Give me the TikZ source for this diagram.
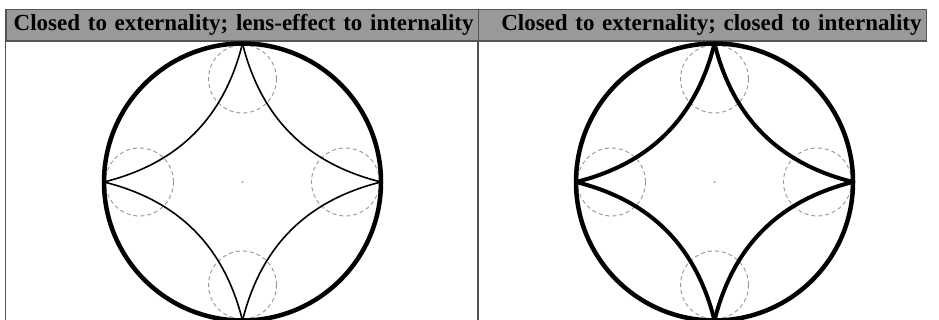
\documentclass[tikz,border=0pt]{standalone}
\usepackage{fontspec}
\setmainfont{Liberation Serif}
\usepackage{tikz}
\usetikzlibrary{positioning, calc}
\definecolor{headFill}{RGB}{153,153,153}
\definecolor{headLine}{RGB}{85,85,85}
\definecolor{frameLine}{RGB}{80,80,80}
\definecolor{guideLine}{RGB}{150,150,150}
\definecolor{ink}{RGB}{0,0,0}
\tikzset{
  header/.style={
    draw=headLine,
    line width=1.2pt,
    fill=headFill,
    anchor=north west,
    minimum height=31.5pt,
    inner xsep=5pt,
    inner ysep=0pt,
    align=right,
    font=\fontsize{23}{23}\selectfont\bfseries
  },
  frame/.style={draw=frameLine, line width=1.5pt},
  rim/.style={draw=ink, line width=4.5pt},
  guide/.style={draw=guideLine, line width=0.9pt, dash pattern=on 4pt off 3pt},
  lens/.style={draw=ink, line width=1.6pt},
  shut/.style={draw=ink, line width=4pt},
  hub/.style={circle, fill=guideLine, inner sep=0pt, minimum size=2pt}
}

\begin{document}
\begin{tikzpicture}[x=1pt, y=1pt]
  \useasboundingbox (0,0) rectangle (939,320);

  \draw[frame] (5.5,311) -- (5.5,0);
  \draw[frame] (478,311) -- (478,0);
  \node[header, text width=462.5pt] (leftHead) at (5.5,311) {Closed to externality; lens-effect to internality};
  \node[header, text width=438pt] (rightHead) at (478,311) {Closed to externality; closed to internality};

  \coordinate (leftMid) at (242.5,138);
  \coordinate (lTop) at ($(leftMid)+(0,138.5)$);
  \coordinate (lRight) at ($(leftMid)+(138.5,0)$);
  \coordinate (lBottom) at ($(leftMid)+(0,-138.5)$);
  \coordinate (lLeft) at ($(leftMid)+(-138.5,0)$);
  \draw[guide] ($(leftMid)+(0,103)$) circle[radius=34];
  \draw[guide] ($(leftMid)+(103,0)$) circle[radius=34];
  \draw[guide] ($(leftMid)+(0,-103)$) circle[radius=34];
  \draw[guide] ($(leftMid)+(-103,0)$) circle[radius=34];
  \node[hub] (leftDot) at (leftMid) {};
  \draw[rim] (leftMid) circle[radius=138.5];
  \draw[lens] (lTop) to[bend right=31] (lRight);
  \draw[lens] (lRight) to[bend right=31] (lBottom);
  \draw[lens] (lBottom) to[bend right=31] (lLeft);
  \draw[lens] (lLeft) to[bend right=31] (lTop);

  \coordinate (rightMid) at (714.5,138);
  \coordinate (rTop) at ($(rightMid)+(0,138.5)$);
  \coordinate (rRight) at ($(rightMid)+(138.5,0)$);
  \coordinate (rBottom) at ($(rightMid)+(0,-138.5)$);
  \coordinate (rLeft) at ($(rightMid)+(-138.5,0)$);
  \draw[guide] ($(rightMid)+(0,103)$) circle[radius=34];
  \draw[guide] ($(rightMid)+(103,0)$) circle[radius=34];
  \draw[guide] ($(rightMid)+(0,-103)$) circle[radius=34];
  \draw[guide] ($(rightMid)+(-103,0)$) circle[radius=34];
  \node[hub] (rightDot) at (rightMid) {};
  \draw[rim] (rightMid) circle[radius=138.5];
  \draw[shut] (rTop) to[bend right=31] (rRight);
  \draw[shut] (rRight) to[bend right=31] (rBottom);
  \draw[shut] (rBottom) to[bend right=31] (rLeft);
  \draw[shut] (rLeft) to[bend right=31] (rTop);
\end{tikzpicture}
\end{document}
